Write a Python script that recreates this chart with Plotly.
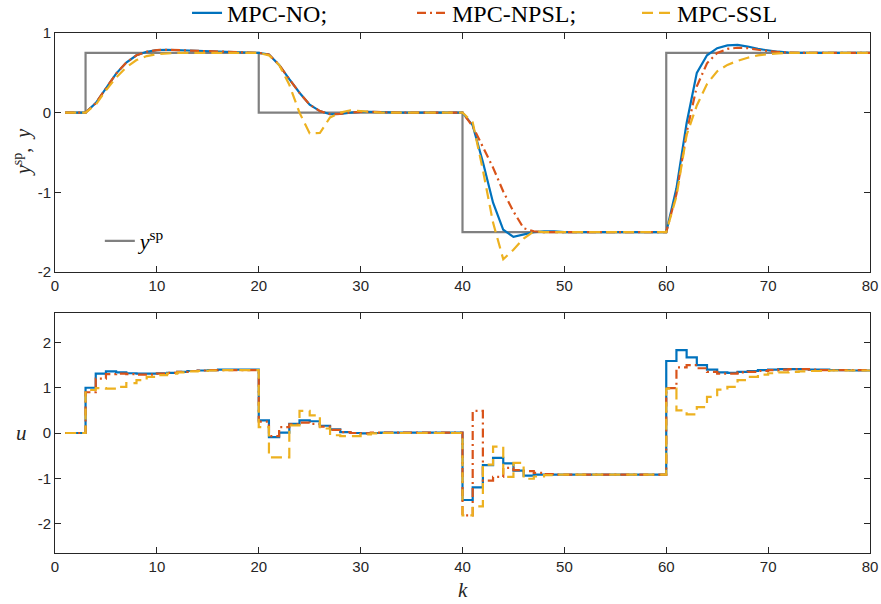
import plotly.graph_objects as go
from plotly.subplots import make_subplots

k = list(range(1, 81))

# setpoint
y_sp = [0, 0] + [0.75] * 17 + [0.0] * 20 + [-1.5] * 20 + [0.75] * 21

# outputs y
y_no = [0, 0, 0, 0.12, 0.31, 0.49, 0.63, 0.72, 0.765, 0.785,
        0.79, 0.785, 0.78, 0.775, 0.77, 0.765, 0.76, 0.755, 0.75, 0.75,
        0.73, 0.6, 0.42, 0.25, 0.1, 0.02, -0.02, -0.015, 0.0, 0.01,
        0.01, 0.005, 0, 0, 0, 0, 0, 0, 0, 0,
        -0.16, -0.62, -1.13, -1.47, -1.56, -1.53, -1.5, -1.49, -1.49, -1.5,
        -1.5, -1.5, -1.5, -1.5, -1.5, -1.5, -1.5, -1.5, -1.5, -1.5,
        -0.95, -0.13, 0.5, 0.72, 0.81, 0.845, 0.85, 0.83, 0.8, 0.78,
        0.765, 0.755, 0.75, 0.75, 0.75, 0.75, 0.75, 0.75, 0.75, 0.75]
y_npsl = [0, 0, 0, 0.12, 0.31, 0.49, 0.63, 0.72, 0.765, 0.785,
          0.79, 0.785, 0.78, 0.775, 0.77, 0.765, 0.76, 0.755, 0.75, 0.75,
          0.73, 0.6, 0.42, 0.25, 0.1, 0.02, -0.02, -0.015, 0.0, 0.01,
          0.01, 0.005, 0, 0, 0, 0, 0, 0, 0, 0,
          -0.17, -0.42, -0.69, -0.99, -1.24, -1.45, -1.49, -1.5, -1.5, -1.5,
          -1.5, -1.5, -1.5, -1.5, -1.5, -1.5, -1.5, -1.5, -1.5, -1.5,
          -1.02, -0.25, 0.33, 0.62, 0.75, 0.8, 0.815, 0.81, 0.79, 0.775,
          0.76, 0.755, 0.75, 0.75, 0.75, 0.75, 0.75, 0.75, 0.75, 0.75]
y_ssl = [0, 0, 0, 0.1, 0.28, 0.44, 0.57, 0.66, 0.71, 0.735,
         0.745, 0.75, 0.75, 0.75, 0.75, 0.75, 0.75, 0.75, 0.75, 0.75,
         0.72, 0.6, 0.35, 0.0, -0.26, -0.255, -0.06, 0.0, 0.03, 0.02,
         0.01, 0, 0, 0, 0, 0, 0, 0, 0, 0,
         -0.12, -0.72, -1.38, -1.84, -1.72, -1.58, -1.49, -1.5, -1.5, -1.5,
         -1.5, -1.5, -1.5, -1.5, -1.5, -1.5, -1.5, -1.5, -1.5, -1.5,
         -1.05, -0.28, 0.09, 0.36, 0.52, 0.6, 0.65, 0.69, 0.72, 0.735,
         0.745, 0.75, 0.75, 0.75, 0.75, 0.75, 0.75, 0.75, 0.75, 0.75]

# inputs u
u_no = [0, 0, 1.0, 1.31, 1.36, 1.34, 1.32, 1.31, 1.31, 1.32,
        1.33, 1.35, 1.37, 1.38, 1.39, 1.40, 1.40, 1.40, 1.40, 0.28,
        -0.09, 0.01, 0.2, 0.28, 0.26, 0.16, 0.08, 0.02, 0.0, -0.01,
        0.0, 0.01, 0.01, 0.01, 0.01, 0.01, 0.01, 0.01, 0.01, -1.48,
        -1.2, -0.71, -0.55, -0.67, -0.83, -0.94, -0.92, -0.92, -0.92, -0.92,
        -0.92, -0.92, -0.92, -0.92, -0.92, -0.92, -0.92, -0.92, -0.92, 1.59,
        1.83, 1.67, 1.5, 1.4, 1.34, 1.33, 1.35, 1.37, 1.39, 1.40,
        1.41, 1.41, 1.41, 1.40, 1.40, 1.39, 1.39, 1.38, 1.38, 1.38]
u_npsl = [0, 0, 0.9, 1.2, 1.3, 1.31, 1.3, 1.29, 1.29, 1.31,
          1.33, 1.35, 1.37, 1.38, 1.39, 1.39, 1.39, 1.39, 1.39, 0.25,
          -0.07, 0.13, 0.19, 0.23, 0.2, 0.14, 0.07, 0.02, 0.0, -0.01,
          0.01, 0.01, 0.01, 0.01, 0.01, 0.01, 0.01, 0.01, 0.01, -1.82,
          0.49, -1.05, -0.97, -0.77, -0.82, -0.84, -0.88, -0.91, -0.92, -0.92,
          -0.92, -0.92, -0.92, -0.92, -0.92, -0.92, -0.92, -0.92, -0.92, 0.99,
          1.45, 1.5, 1.43, 1.35, 1.31, 1.31, 1.34, 1.35, 1.37, 1.39,
          1.40, 1.41, 1.41, 1.40, 1.39, 1.39, 1.39, 1.39, 1.39, 1.39]
u_ssl = [0, 0, 0.95, 0.99, 0.98, 1.02, 1.1, 1.17, 1.24, 1.28,
         1.31, 1.34, 1.36, 1.37, 1.38, 1.39, 1.39, 1.39, 1.39, 0.13,
         -0.54, -0.54, 0.17, 0.49, 0.39, 0.1, -0.05, -0.07, -0.07, -0.03,
         -0.01, 0.0, 0.0, 0.0, 0.0, 0.0, 0.0, 0.0, 0.0, -1.82,
         -1.62, -0.7, -0.3, -0.97, -0.66, -1.01, -0.96, -0.93, -0.92, -0.92,
         -0.92, -0.92, -0.92, -0.92, -0.92, -0.92, -0.92, -0.92, -0.92, 0.98,
         0.5, 0.41, 0.57, 0.8, 0.96, 1.02, 1.17, 1.24, 1.29, 1.32,
         1.34, 1.35, 1.36, 1.37, 1.37, 1.38, 1.38, 1.38, 1.38, 1.38]

x_ticks = [0, 10, 20, 30, 40, 50, 60, 70, 80]
y_top_ticks = [-2, -1, 0, 1]
y_top_text = ["-2", "-1", "0", "1"]
y_bot_ticks = [-2, -1, 0, 1, 2]
y_bot_text = ["-2", "-1", "0", "1", "2"]

BLUE = "#0072BD"
ORANGE = "#D95319"
YELLOW = "#EDB120"
GRAY = "#808080"
AX = "#262626"
SERIF = "Liberation Serif, Times New Roman, serif"

fig = make_subplots(rows=2, cols=1, vertical_spacing=0.0)

fig.add_trace(go.Scatter(x=k, y=y_sp, mode="lines", line=dict(color=GRAY, width=2.2, shape="hv"),
                         name="<i>y</i><sup>sp</sup>", legend="legend2"), row=1, col=1)
fig.add_trace(go.Scatter(x=k, y=y_no, mode="lines", line=dict(color=BLUE, width=2.2),
                         name="MPC-NO;", legend="legend"), row=1, col=1)
fig.add_trace(go.Scatter(x=k, y=y_npsl, mode="lines", line=dict(color=ORANGE, width=2.2, dash="9px,4px,2px,4px"),
                         name="MPC-NPSL;", legend="legend"), row=1, col=1)
fig.add_trace(go.Scatter(x=k, y=y_ssl, mode="lines", line=dict(color=YELLOW, width=2.2, dash="11px,6px"),
                         name="MPC-SSL", legend="legend"), row=1, col=1)

fig.add_trace(go.Scatter(x=k, y=u_no, mode="lines", line=dict(color=BLUE, width=2.2, shape="hv"),
                         showlegend=False), row=2, col=1)
fig.add_trace(go.Scatter(x=k, y=u_npsl, mode="lines", line=dict(color=ORANGE, width=2.2, shape="hv", dash="9px,4px,2px,4px"),
                         showlegend=False), row=2, col=1)
fig.add_trace(go.Scatter(x=k, y=u_ssl, mode="lines", line=dict(color=YELLOW, width=2.2, shape="hv", dash="11px,6px"),
                         showlegend=False), row=2, col=1)

tickfont = dict(family="Liberation Sans, Arial, sans-serif", size=15, color=AX)
axis_common = dict(showline=True, linecolor=AX, linewidth=1, mirror="ticks", ticks="inside",
                   ticklen=6, tickcolor=AX, tickwidth=1, showgrid=False, zeroline=False,
                   tickfont=tickfont)

fig.update_xaxes(range=[0, 80], tickvals=x_ticks, ticktext=[str(v) for v in x_ticks], **axis_common)
fig.update_yaxes(**axis_common)
fig.update_yaxes(range=[-2, 1], tickvals=y_top_ticks, ticktext=y_top_text, row=1, col=1)
fig.update_yaxes(range=[-2.65, 2.65], tickvals=y_bot_ticks, ticktext=y_bot_text, row=2, col=1)

fig.update_layout(
    width=881, height=604,
    margin=dict(l=55, r=11, t=33, b=51, autoexpand=False),
    paper_bgcolor="white", plot_bgcolor="white",
    xaxis=dict(domain=[0, 1]),
    yaxis=dict(domain=[0.5404, 1.0]),
    yaxis2=dict(domain=[0.0, 0.4615]),
    legend=dict(orientation="h", x=0.162, xanchor="left", y=1.038, yanchor="middle",
                font=dict(family=SERIF, size=24, color="black"),
                bgcolor="rgba(0,0,0,0)", entrywidth=180, entrywidthmode="pixels"),
    legend2=dict(x=0.055, xanchor="left", y=0.6, yanchor="middle",
                 font=dict(family=SERIF, size=22, color="black"),
                 bgcolor="rgba(0,0,0,0)"),
    annotations=[
        dict(text="<i>y</i><sup>sp</sup><i>,</i>  <i>y</i>", xref="paper", yref="paper", x=-0.0405, y=0.771,
             textangle=-90, showarrow=False, xanchor="center", yanchor="middle",
             font=dict(family=SERIF, size=20, color=AX)),
        dict(text="<i>u</i>", xref="paper", yref="paper", x=-0.0405, y=0.2308,
             showarrow=False, xanchor="center", yanchor="middle",
             font=dict(family=SERIF, size=21, color=AX)),
        dict(text="<i>k</i>", xref="paper", yref="paper", x=0.5006, y=-0.0712,
             showarrow=False, xanchor="center", yanchor="middle",
             font=dict(family=SERIF, size=21, color=AX)),
    ],
)

fig.write_html("out.html", config={"displayModeBar": False},
               post_script="document.body.style.margin='0px'; document.body.style.overflow='hidden';")
